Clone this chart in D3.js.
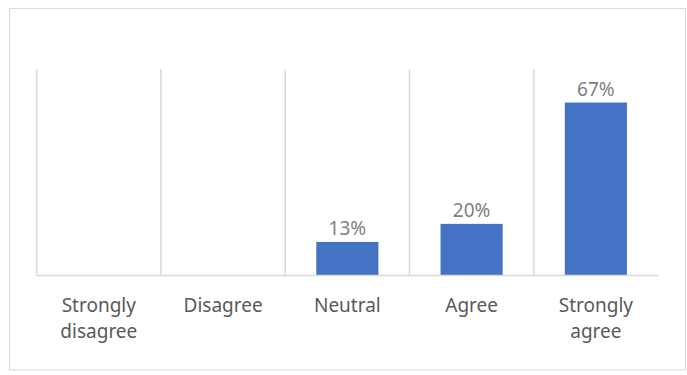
<!DOCTYPE html>
<html>
<head>
<meta charset="utf-8">
<script src="https://cdn.jsdelivr.net/npm/d3@7"></script>
<style>
  body { margin: 0; background: #fff; }
  text { font-family: "Noto Sans", "Open Sans", sans-serif; }
</style>
</head>
<body>
<div id="chart"></div>
<script>
    var categories = ["Strongly disagree", "Disagree", "Neutral", "Agree", "Strongly agree"];
    var shares = [0, 0, 0.13, 0.20, 0.67];
    var yMax = 0.8;

    var width = 687,
      height = 375,
      margin = {top: 69, bottom: 99.5, left: 36.7, right: 29};

    var svg = d3.select("#chart").append("svg")
      .attr("width", width)
      .attr("height", height);

    // chart border
    svg.append("rect")
      .attr("x", 9.5)
      .attr("y", 8.5)
      .attr("width", 676)
      .attr("height", 361.5)
      .style("fill", "#fff")
      .style("stroke", "#d9d9d9");

    var x = d3.scaleBand()
      .domain(categories)
      .range([margin.left, width - margin.right])
      .padding(0);

    var y = d3.scaleLinear()
      .domain([0, yMax])
      .range([height - margin.bottom, margin.top]);

    // vertical gridlines at category boundaries
    svg.selectAll(".grid")
      .data(categories)
      .enter().append("line")
      .attr("class", "grid")
      .attr("x1", function(d){ return x(d); })
      .attr("x2", function(d){ return x(d); })
      .attr("y1", y(yMax))
      .attr("y2", y(0))
      .style("stroke", "#d9d9d9")
      .style("stroke-width", 1.5);

    var barW = x.bandwidth() * 0.5;

    svg.selectAll(".bar")
      .data(shares)
      .enter().append("rect")
      .attr("class", "bar")
      .attr("x", function(d, i){ return x(categories[i]) + (x.bandwidth() - barW) / 2; })
      .attr("y", function(d){ return y(d); })
      .attr("width", barW)
      .attr("height", function(d){ return y(0) - y(d); })
      .style("fill", "#4472c4");

    // baseline
    svg.append("line")
      .attr("x1", x.range()[0])
      .attr("x2", x.range()[1])
      .attr("y1", y(0))
      .attr("y2", y(0))
      .style("stroke", "#d9d9d9")
      .style("stroke-width", 1.5);

    // data labels (only for non-zero values)
    svg.selectAll(".lbl")
      .data(shares.filter(function(d){ return d > 0; }))
      .enter().append("text")
      .attr("class", "lbl")
      .attr("x", function(d){ return x(categories[shares.indexOf(d)]) + x.bandwidth() / 2; })
      .attr("y", function(d){ return y(d) - 7; })
      .attr("text-anchor", "middle")
      .style("font-size", "19px")
      .style("fill", "#808080")
      .text(function(d){ return Math.round(d * 100) + "%"; });

    // category labels, wrapped on spaces like the original
    var ticks = svg.selectAll(".tick")
      .data(categories)
      .enter().append("text")
      .attr("class", "tick")
      .attr("text-anchor", "middle")
      .style("font-size", "19px")
      .style("fill", "#595959");

    ticks.each(function(d){
      var words = d.split(" ");
      var t = d3.select(this);
      words.forEach(function(w, i){
        t.append("tspan")
          .attr("x", x(d) + x.bandwidth() / 2)
          .attr("y", 311.5 + i * 26.5)
          .text(w);
      });
    });
</script>
</body>
</html>
